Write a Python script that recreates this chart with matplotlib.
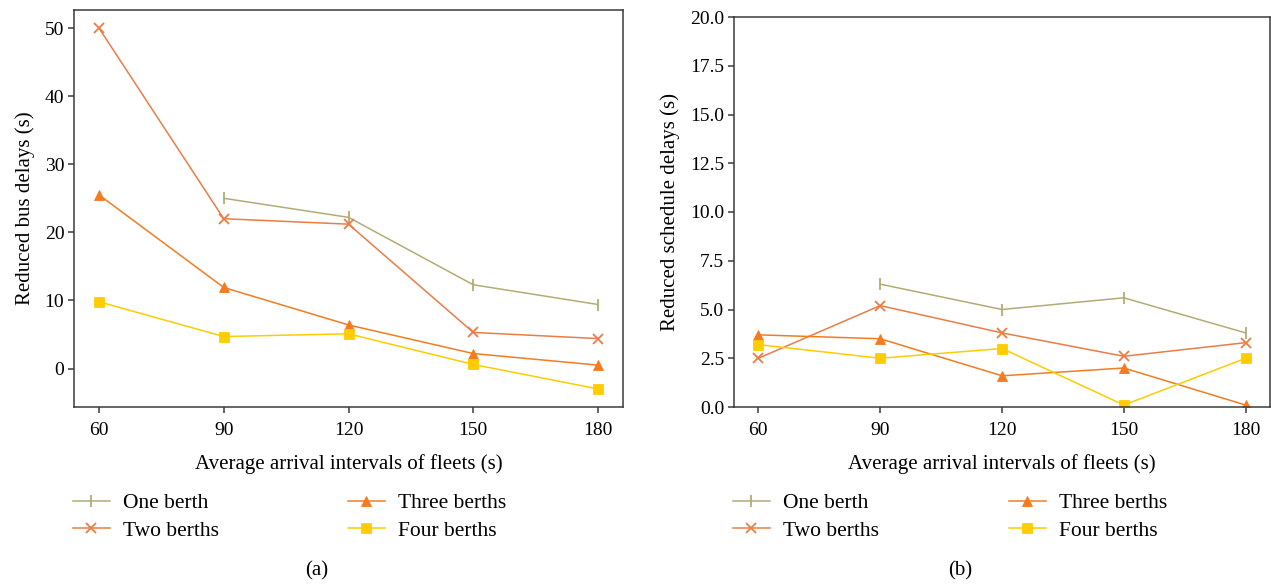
import matplotlib
matplotlib.use("Agg")
import matplotlib.pyplot as plt
import matplotlib.ticker as mticker
import numpy as np

plt.rcParams['font.family'] = ['Liberation Serif', 'DejaVu Serif']

intervals = [60, 90, 120, 150, 180]
labels = ['One berth', 'Two berths', 'Three berths', 'Four berths']

# panel (a): reduced bus delays
bus_one = [np.nan, 25.0, 22.2, 12.3, 9.4]
bus_two = [50.0, 22.0, 21.2, 5.3, 4.4]
bus_three = [25.5, 11.9, 6.4, 2.2, 0.5]
bus_four = [9.8, 4.7, 5.1, 0.6, -3.0]

# panel (b): reduced schedule delays
sch_one = [np.nan, 6.3, 5.0, 5.6, 3.8]
sch_two = [2.5, 5.2, 3.8, 2.6, 3.3]
sch_three = [3.7, 3.5, 1.6, 2.0, 0.1]
sch_four = [3.2, 2.5, 3.0, 0.1, 2.5]

colors = ['#b2ac74', '#ea7d46', '#f47c20', '#ffcc00']
markers = ['|', 'x', '^', 's']
msizes = [9, 7, 7.5, 7.5]

fig = plt.figure(figsize=(12.71, 5.84), dpi=100)
W, H = 1271, 584
ax1 = fig.add_axes([74 / W, (H - 407) / H, 549 / W, 397 / H])
ax2 = fig.add_axes([734 / W, (H - 407) / H, 536 / W, 390 / H])


def draw(ax, series, ylabel):
    lines = []
    for s, c, m, ms, lab in zip(series, colors, markers, msizes, labels):
        ln, = ax.plot(intervals, s, color=c, marker=m, markersize=ms, lw=1.1,
                      markeredgewidth=1.3 if m in ('|', 'x') else 0.6, label=lab)
        lines.append(ln)
    ax.set_xticks(intervals)
    ax.set_xlabel('Average arrival intervals of fleets (s)', fontsize=15, labelpad=11)
    ax.set_ylabel(ylabel, fontsize=15, labelpad=7)
    for sp in ax.spines.values():
        sp.set_color('#3a3a3a')
        sp.set_linewidth(1.1)
    ax.tick_params(labelsize=14, color='#3a3a3a', length=4, width=1.1)
    ax.tick_params(axis='x', pad=7)
    ax.tick_params(axis='y', pad=3)
    return lines


lines1 = draw(ax1, [bus_one, bus_two, bus_three, bus_four], 'Reduced bus delays (s)')
ax1.set_yticks([0, 10, 20, 30, 40, 50])

lines2 = draw(ax2, [sch_one, sch_two, sch_three, sch_four], 'Reduced schedule delays (s)')
ax2.set_ylim(0, 20)
ax2.set_yticks(np.arange(0, 20.1, 2.5))
ax2.yaxis.set_major_formatter(mticker.FormatStrFormatter('%.1f'))

# two-column legend under each panel, built as two single-column legends
for ax, lines, xs in [(ax1, lines1, (73, 348)), (ax2, lines2, (733, 1009))]:
    for k, x0 in enumerate(xs):
        leg = ax.legend(handles=lines[2 * k:2 * k + 2], loc='upper left',
                        bbox_to_anchor=(x0 / W, 1 - 493 / H),
                        bbox_transform=fig.transFigure, frameon=False,
                        fontsize=15.5, handlelength=1.7, handletextpad=0.6,
                        labelspacing=0.35, borderpad=0, borderaxespad=0)
        if k == 0:
            ax.add_artist(leg)

fig.text(317 / W, 1 - 571 / H, '(a)', ha='center', va='center', fontsize=15)
fig.text(960 / W, 1 - 571 / H, '(b)', ha='center', va='center', fontsize=15)

fig.savefig('out.png', dpi=100)
